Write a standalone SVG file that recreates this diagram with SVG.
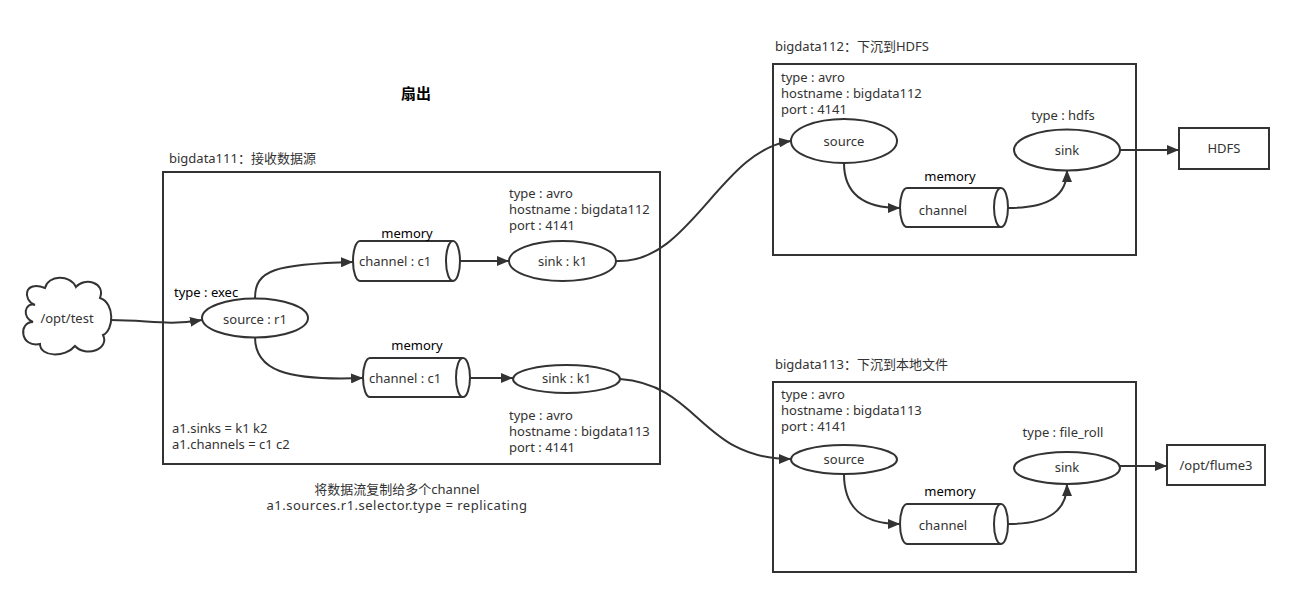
<svg xmlns="http://www.w3.org/2000/svg" width="1294" height="597" viewBox="0 0 1294 597">
<style>
text{font-family:"Noto Sans","Noto Sans CJK SC",sans-serif;font-size:13px;fill:#333}
.c{text-anchor:middle}
.k{fill:#000}
.box{fill:none;stroke:#333;stroke-width:2}
.shape{fill:#fff;stroke:#333;stroke-width:2}
.edge{fill:none;stroke:#333;stroke-width:2}
</style>
<defs>
<marker id="arr" viewBox="0 0 12 10" refX="12" refY="5" markerWidth="12" markerHeight="10" markerUnits="userSpaceOnUse" orient="auto">
<path d="M0,0 L12,5 L0,10 Z" fill="#333"/>
</marker>
</defs>
<rect width="1294" height="597" fill="#fff"/>

<text x="416" y="99" class="c k" style="font-size:15px;font-weight:bold">扇出</text>

<g id="bigdata111">
<rect class="box" x="163" y="172" width="497" height="292"/>
<text x="169" y="163">bigdata111：接收数据源</text>
<text x="172" y="433">a1.sinks = k1 k2</text>
<text x="172" y="449">a1.channels = c1 c2</text>
</g>

<g id="cloud">
<path class="shape" d="M35,305 C22,300 24,280 45,288 C48,275 70,274 76,287 C84,277 106,282 100,298 C115,303 114,330 103,335 C110,349 86,358 75,346 C65,358 40,357 40,344 C20,348 18,322 33,322 C22,318 24,302 35,305 Z"/>
<text x="67" y="323" class="c">/opt/test</text>
</g>

<g id="source-r1">
<ellipse class="shape" cx="255" cy="318" rx="53" ry="19.5"/>
<text x="255" y="324" class="c">source : r1</text>
<text x="174" y="297" class="k">type : exec</text>
</g>

<g id="channel-c1-top">
<path class="shape" d="M360,241 H453 A7,20 0 0 1 453,281 H360 A7,20 0 0 1 360,241 Z M453,241 A7,20 0 0 0 453,281"/>
<text x="407" y="238" class="c k">memory</text>
<text x="359" y="266">channel : c1</text>
</g>

<g id="sink-k1-top">
<ellipse class="shape" cx="562.5" cy="261" rx="53.5" ry="20"/>
<text x="562.5" y="266" class="c">sink : k1</text>
<text x="509" y="198">type : avro</text>
<text x="509" y="214">hostname : bigdata112</text>
<text x="509" y="230">port : 4141</text>
</g>

<g id="channel-c1-bottom">
<path class="shape" d="M370,358 H463 A7,19.5 0 0 1 463,397 H370 A7,19.5 0 0 1 370,358 Z M463,358 A7,19.5 0 0 0 463,397"/>
<text x="417" y="350" class="c k">memory</text>
<text x="369" y="383">channel : c1</text>
</g>

<g id="sink-k1-bottom">
<ellipse class="shape" cx="566.5" cy="379" rx="53.5" ry="14"/>
<text x="566.5" y="383" class="c">sink : k1</text>
<text x="509" y="420">type : avro</text>
<text x="509" y="436">hostname : bigdata113</text>
<text x="509" y="452">port : 4141</text>
</g>

<text x="397" y="494" class="c">将数据流复制给多个channel</text>
<text x="397" y="510" class="c" style="letter-spacing:0.5px">a1.sources.r1.selector.type = replicating</text>

<g id="bigdata112">
<rect class="box" x="773" y="64" width="363" height="191"/>
<text x="775" y="51">bigdata112：下沉到HDFS</text>
<text x="781" y="82">type : avro</text>
<text x="781" y="98">hostname : bigdata112</text>
<text x="781" y="114">port : 4141</text>
</g>
<g id="source-112">
<ellipse class="shape" cx="844" cy="141" rx="53" ry="22"/>
<text x="844" y="146" class="c">source</text>
</g>
<g id="channel-112">
<path class="shape" d="M907,188 H1001 A7,19.5 0 0 1 1001,227 H907 A7,19.5 0 0 1 907,188 Z M1001,188 A7,19.5 0 0 0 1001,227"/>
<text x="950" y="181" class="c k">memory</text>
<text x="943" y="215" class="c">channel</text>
</g>
<g id="sink-112">
<ellipse class="shape" cx="1067" cy="150" rx="53" ry="20.5"/>
<text x="1067" y="155" class="c">sink</text>
<text x="1063" y="120" class="c">type : hdfs</text>
</g>
<g id="hdfs">
<rect class="shape" x="1179" y="128" width="90" height="41"/>
<text x="1224" y="153" class="c">HDFS</text>
</g>

<g id="bigdata113">
<rect class="box" x="773" y="382" width="363" height="190"/>
<text x="775" y="369">bigdata113：下沉到本地文件</text>
<text x="781" y="399">type : avro</text>
<text x="781" y="415">hostname : bigdata113</text>
<text x="781" y="431">port : 4141</text>
</g>
<g id="source-113">
<ellipse class="shape" cx="844" cy="459.5" rx="53" ry="14.5"/>
<text x="844" y="464" class="c">source</text>
</g>
<g id="channel-113">
<path class="shape" d="M907,504 H1001 A7,20 0 0 1 1001,544 H907 A7,20 0 0 1 907,504 Z M1001,504 A7,20 0 0 0 1001,544"/>
<text x="950" y="496" class="c k">memory</text>
<text x="943" y="530" class="c">channel</text>
</g>
<g id="sink-113">
<ellipse class="shape" cx="1067" cy="468" rx="53" ry="16"/>
<text x="1067" y="472" class="c">sink</text>
<text x="1063" y="437" class="c">type : file_roll</text>
</g>
<g id="flume3">
<rect class="shape" x="1167" y="445" width="98" height="40"/>
<text x="1216" y="470" class="c">/opt/flume3</text>
</g>

<g id="connectors">
<path class="edge" marker-end="url(#arr)" d="M110,320 C150,320 165,326 202,320"/>
<path class="edge" marker-end="url(#arr)" d="M255,298 C255,270 275,264 353,262"/>
<path class="edge" marker-end="url(#arr)" d="M255,337 C255,370 285,381 363,378"/>
<path class="edge" marker-end="url(#arr)" d="M460,261 H509"/>
<path class="edge" marker-end="url(#arr)" d="M470,378 H513"/>
<path class="edge" marker-end="url(#arr)" d="M616,261 C690,265 720,150 791,141"/>
<path class="edge" marker-end="url(#arr)" d="M620,379 C700,385 700,459 791,459"/>
<path class="edge" marker-end="url(#arr)" d="M844,163 C844,195 865,208 900,208"/>
<path class="edge" marker-end="url(#arr)" d="M1008,208 C1050,208 1067,195 1067,170"/>
<path class="edge" marker-end="url(#arr)" d="M1120,150 H1179"/>
<path class="edge" marker-end="url(#arr)" d="M844,474 C844,510 865,524 900,524"/>
<path class="edge" marker-end="url(#arr)" d="M1008,524 C1050,524 1067,510 1067,484"/>
<path class="edge" marker-end="url(#arr)" d="M1120,466 H1167"/>
</g>
</svg>
